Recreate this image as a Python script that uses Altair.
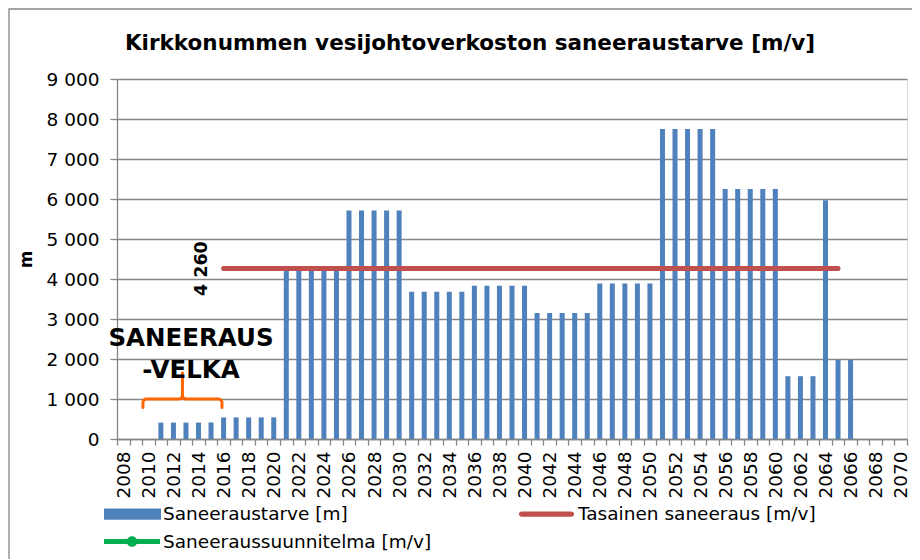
import altair as alt
import pandas as pd

# ---------------- data ----------------
years = list(range(2008, 2071))
saneeraustarve = [
    0, 0, 0,                              # 2008-2010
    410, 410, 410, 410, 410,              # 2011-2015
    540, 540, 540, 540, 540,              # 2016-2020
    4250, 4250, 4250, 4250, 4250,         # 2021-2025
    5710, 5710, 5710, 5710, 5710,         # 2026-2030
    3680, 3680, 3680, 3680, 3680,         # 2031-2035
    3830, 3830, 3830, 3830, 3830,         # 2036-2040
    3150, 3150, 3150, 3150, 3150,         # 2041-2045
    3890, 3890, 3890, 3890, 3890,         # 2046-2050
    7750, 7750, 7750, 7750, 7750,         # 2051-2055
    6250, 6250, 6250, 6250, 6250,         # 2056-2060
    1570, 1570, 1570,                     # 2061-2063
    5970,                                 # 2064
    1980, 1980,                           # 2065-2066
    0, 0, 0, 0,                           # 2067-2070
]
tasainen_value = [4260]
tasainen_start = [2016]
tasainen_end = [2065]

series_names = ["Saneeraustarve [m]", "Tasainen saneeraus [m/v]", "Saneeraussuunnitelma [m/v]"]
series_colors = ["#4F81BD", "#C0504D", "#00B050"]
y_ticks = [0, 1000, 2000, 3000, 4000, 5000, 6000, 7000, 8000, 9000]

title_text = "Kirkkonummen vesijohtoverkoston saneeraustarve [m/v]"
annot_lines = ["SANEERAUS", "-VELKA"]
annot_x = [2013.4, 2013.4]
annot_y = [2315, 1530]

# brace annotation outline (year, metres)
brace_x = [2009.57, 2009.57, 2009.65, 2009.81, 2012.48, 2012.64, 2012.72, 2012.72,
           2012.72, 2012.80, 2012.96, 2015.63, 2015.79, 2015.87, 2015.87]
brace_y = [790, 925, 980, 1000, 1000, 1020, 1075, 1650,
           1075, 1020, 1000, 1000, 980, 925, 790]

# ---------------- styles ----------------
FONT = "DejaVu Sans"
GRAY = "#868686"

legend_paths = [
    "M-1.54,-0.92H7.96V0.92H-1.54Z",
    "M-1.12,-0.42H7.21A0.42,0.42 0 0 1 7.21,0.42H-1.12A0.42,0.42 0 0 1 -1.12,-0.42Z",
    "M-1.54,-0.42H7.8V0.42H-1.54Z M2.245,0A0.88,0.88 0 1 1 4.005,0A0.88,0.88 0 1 1 2.245,0Z",
]

df_bar = pd.DataFrame({"year": years, "value": saneeraustarve})
df_rule = pd.DataFrame({"start": tasainen_start, "end": tasainen_end, "value": tasainen_value})
df_leg = pd.DataFrame({"series": series_names, "value": [None, None, None]})
df_annot = pd.DataFrame({"x": annot_x, "y": annot_y, "text": annot_lines})
df_brace = pd.DataFrame({"bx": brace_x, "by": brace_y, "ord": list(range(len(brace_x)))})

xscale = alt.Scale(domain=years, paddingInner=0, paddingOuter=0)
qscale = alt.Scale(domain=[2007.5, 2070.5], nice=False, zero=False)
yscale = alt.Scale(domain=[0, 9000], nice=False, zero=True)

xaxis = alt.Axis(
    title=None, tickBand="extent", labelAngle=-90,
    labelExpr="datum.value % 2 == 0 ? datum.label : ''",
    labelOverlap=False, tickSize=6, labelPadding=6,
    domainColor=GRAY, tickColor=GRAY, domainWidth=1.3, tickWidth=1.3,
    labelFont=FONT, labelFontSize=18.5, labelColor="black", grid=False,
)
yaxis = alt.Axis(
    title="m", values=y_ticks,
    labelExpr="replace(format(datum.value, ','), ',', ' ')",
    grid=True, gridColor=GRAY, gridWidth=1.3,
    domainColor=GRAY, tickColor=GRAY, domainWidth=1.3, tickWidth=1.3,
    tickSize=7, labelPadding=11,
    labelFont=FONT, labelFontSize=18.5, labelColor="black",
    titleFont=FONT, titleFontSize=17, titleFontWeight="bold", titleColor="black",
    titlePadding=11,
)

legend_kw = dict(
    title=None, orient="none", legendX=-13, legendY=425.75, columns=2,
    direction="horizontal",
    columnPadding=87, rowPadding=8.5, symbolSize=144, symbolStrokeWidth=0,
    labelOffset=40.5, labelFont=FONT, labelFontSize=18.5, labelColor="black",
    padding=0, symbolOpacity=1, labelLimit=500,
)

# ---------------- layers ----------------
frame = alt.Chart(pd.DataFrame({"k": [0]})).mark_rect(
    fillOpacity=0, stroke=GRAY, strokeWidth=1.3
).encode(x=alt.value(-108), x2=alt.value(900), y=alt.value(-70), y2=alt.value(600))

bars = alt.Chart(df_bar).mark_bar(color="#4F81BD", width=alt.RelativeBandSize(0.4)).encode(
    x=alt.X("year:O", scale=xscale, axis=xaxis),
    y=alt.Y("value:Q", scale=yscale, axis=yaxis),
)

legend_pts = alt.Chart(df_leg).mark_point(filled=True, opacity=1, size=144).encode(
    y=alt.Y("value:Q", scale=yscale, axis=yaxis),
    color=alt.Color("series:N", scale=alt.Scale(domain=series_names, range=series_colors),
                    legend=alt.Legend(**legend_kw)),
    shape=alt.Shape("series:N", scale=alt.Scale(domain=series_names, range=legend_paths),
                    legend=alt.Legend(**legend_kw)),
)

rule = alt.Chart(df_rule).mark_rule(color="#C0504D", strokeWidth=5, strokeCap="round").encode(
    x=alt.X("start:Q", scale=qscale, axis=None),
    x2="end:Q",
    y=alt.Y("value:Q", scale=yscale, axis=yaxis),
)

rule_label = alt.Chart(df_rule).transform_calculate(
    label="replace(format(datum.value, ','), ',', ' ')"
).mark_text(
    angle=270, font=FONT, fontSize=17.5, fontWeight="bold", color="black",
    align="center", baseline="middle", dy=-22,
).encode(
    x=alt.X("start:Q", scale=qscale, axis=None),
    y=alt.Y("value:Q", scale=yscale, axis=yaxis),
    text="label:N",
)

brace = alt.Chart(df_brace).mark_line(
    color="#FF6600", strokeWidth=3, strokeJoin="round", strokeCap="round"
).encode(
    x=alt.X("bx:Q", scale=qscale, axis=None),
    y=alt.Y("by:Q", scale=yscale, axis=yaxis),
    order="ord:Q",
)

annot = alt.Chart(df_annot).mark_text(
    font=FONT, fontSize=24.5, fontWeight="bold", color="black",
    align="center", baseline="alphabetic",
).encode(
    x=alt.X("x:Q", scale=qscale, axis=None),
    y=alt.Y("y:Q", scale=yscale, axis=yaxis),
    text="text:N",
)

inner = alt.layer(bars, legend_pts)
overlay = alt.layer(rule, rule_label, brace, annot)

chart = alt.layer(frame, inner, overlay).resolve_scale(x="independent").properties(
    width=790, height=360,
    padding={"left": 109, "top": 71, "right": 5, "bottom": 120},
    autosize=alt.AutoSizeParams(type="none"),
    title=alt.TitleParams(
        text=title_text, font=FONT, fontSize=21.5, fontWeight="bold", color="black",
        anchor="middle", frame="group", dx=-42, offset=-63, baseline="alphabetic",
    ),
).configure_view(stroke=None).configure(background="white")

chart.save("out.html", embed_options={"renderer": "svg", "actions": False})
